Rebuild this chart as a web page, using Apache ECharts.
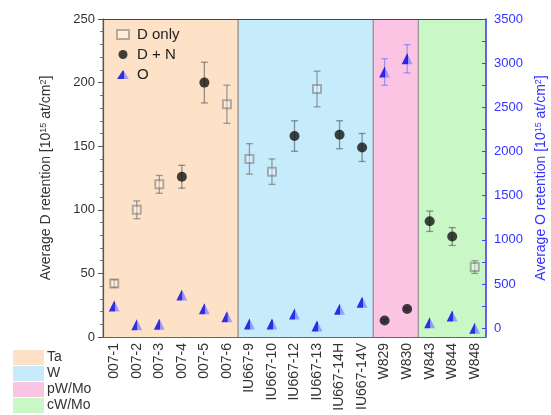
<!DOCTYPE html>
<html><head><meta charset="utf-8">
<script src="https://cdn.jsdelivr.net/npm/echarts@6/dist/echarts.min.js"></script>
<style>html,body{margin:0;padding:0;background:#fff}#c{width:551px;height:415px}</style>
</head><body><div id="c"></div>
<script>
const categories = ['007-1','007-2','007-3','007-4','007-5','007-6','IU667-9','IU667-10','IU667-12','IU667-13','IU667-14H','IU667-14V','W829','W830','W843','W844','W848'];
const dOnly    = [42, 100, 120, null, null, 183, 140, 130, null, 195, null, null, null, null, null, null, 55];
const dOnlyErr = [3, 7, 7, null, null, 15, 12, 10, null, 14, null, null, null, null, null, null, 5];
const dPlusN    = [null, null, null, 126, 200, null, null, null, 158, null, 159, 149, 13, 22, 91, 79, null];
const dPlusNErr = [null, null, null, 9, 16, null, null, null, 12, null, 11, 11, 1, 1, 8, 7, null];
const oVals = [250, 40, 45, 375, 220, 130, 47, 47, 160, 25, 213, 293, 2900, 3050, 62, 138, 0];
const oErr  = [0, 0, 0, 0, 0, 0, 0, 0, 0, 0, 0, 0, 150, 160, 0, 0, 0];
const bandNames  = ['Ta', 'W', 'pW/Mo', 'cW/Mo'];
const bandStarts = [0, 6, 12, 14];
const bandEnds   = [5, 11, 13, 16];
const bandColors = ['#fde2c8', '#c6ebfb', '#fcc4e3', '#c9f7c5'];
const leftTicks = [0, 50, 100, 150, 200, 250];
const rightTicks = [0, 500, 1000, 1500, 2000, 2500, 3000, 3500];
const rightMinorTicks = [0, 250, 500, 750, 1000, 1250, 1500, 1750, 2000, 2250, 2500, 2750, 3000, 3250, 3500];

const FONT = '"Liberation Sans", Arial, sans-serif';
const chart = echarts.init(document.getElementById('c'), null, {renderer: 'canvas'});

function bandSeries(i) {
  return {
    name: bandNames[i], type: 'custom', xAxisIndex: 0, yAxisIndex: 0, z: 0, silent: true,
    itemStyle: {color: bandColors[i]},
    data: [[bandStarts[i], bandEnds[i]]],
    renderItem: function (params, api) {
      const s = api.value(0), e = api.value(1);
      const w = api.size([1, 0])[0];
      const p0 = api.coord([s, 250]);
      const p1 = api.coord([e, 0]);
      const x0 = p0[0] - w / 2, x1 = p1[0] + w / 2;
      return {type: 'group', children: [
        {type: 'rect', shape: {x: x0, y: p0[1], width: x1 - x0, height: p1[1] - p0[1]}, style: {fill: bandColors[i]}},
        {type: 'line', shape: {x1: x0, y1: p0[1], x2: x0, y2: p1[1]}, style: {stroke: '#9a9a9a', lineWidth: 1.2}},
        {type: 'line', shape: {x1: x1, y1: p0[1], x2: x1, y2: p1[1]}, style: {stroke: '#9a9a9a', lineWidth: 1.2}}
      ]};
    }
  };
}

function errSeries(vals, errs, yIdx, color) {
  const data = [];
  vals.forEach((v, i) => { if (v !== null && errs[i]) data.push([i, v - errs[i], v + errs[i]]); });
  return {
    type: 'custom', xAxisIndex: 0, yAxisIndex: yIdx, z: 3, silent: true, data: data,
    renderItem: function (params, api) {
      const lo = api.coord([api.value(0), api.value(1)]);
      const hi = api.coord([api.value(0), api.value(2)]);
      const c = 3.5;
      const st = {stroke: color, lineWidth: 1.3};
      return {type: 'group', children: [
        {type: 'line', shape: {x1: lo[0], y1: lo[1], x2: hi[0], y2: hi[1]}, style: st},
        {type: 'line', shape: {x1: lo[0] - c, y1: lo[1], x2: lo[0] + c, y2: lo[1]}, style: st},
        {type: 'line', shape: {x1: hi[0] - c, y1: hi[1], x2: hi[0] + c, y2: hi[1]}, style: st}
      ]};
    }
  };
}

const triFill = new echarts.graphic.LinearGradient(0, 0, 1, 0, [
  {offset: 0, color: '#0000e6'}, {offset: 0.55, color: '#0000e6'}, {offset: 0.56, color: '#7d7dff'}, {offset: 1, color: '#9a9aff'}]);

const series = [0, 1, 2, 3].map(bandSeries).concat([
  errSeries(dOnly, dOnlyErr, 0, 'rgba(90,90,90,0.55)'),
  errSeries(dPlusN, dPlusNErr, 0, 'rgba(70,70,70,0.55)'),
  errSeries(oVals, oErr, 1, 'rgba(90,90,255,0.5)'),
  {name: 'D only', type: 'scatter', xAxisIndex: 0, yAxisIndex: 0, z: 5, symbol: 'rect', symbolSize: 8,
   itemStyle: {color: 'rgba(255,255,255,0.45)', borderColor: 'rgba(100,100,100,0.6)', borderWidth: 2},
   data: dOnly.map((v, i) => [i, v])},
  {name: 'D + N', type: 'scatter', xAxisIndex: 0, yAxisIndex: 0, z: 5, symbol: 'circle', symbolSize: 10,
   itemStyle: {color: '#141414'},
   data: dPlusN.map((v, i) => [i, v])},
  {name: 'O', type: 'scatter', xAxisIndex: 0, yAxisIndex: 1, z: 5, symbol: 'triangle', symbolSize: 11,
   itemStyle: {color: triFill},
   data: oVals.map((v, i) => [i, v])}
]);

const supRich = {sup: {fontSize: 9, verticalAlign: 'top', lineHeight: 10, padding: [0, 0, 6, 0]}};

chart.setOption({
  animation: false,
  textStyle: {fontFamily: FONT},
  grid: {left: 103, right: 65, top: 19, bottom: 78, containLabel: false, outerBoundsMode: 'none'},
  legend: [
    {orient: 'vertical', left: 116, top: 27, padding: 0, itemWidth: 12, itemHeight: 9, itemGap: 5,
     textStyle: {fontSize: 15, color: '#222', fontFamily: FONT, padding: [0, 0, 0, 3]},
     data: ['D only', 'D + N', 'O']},
    {orient: 'vertical', left: 13, top: 350, padding: 0, height: 70, itemWidth: 31, itemHeight: 15, itemGap: 1,
     textStyle: {fontSize: 14, color: '#333', fontFamily: FONT, lineHeight: 15, padding: [0, 0, 0, -2]},
     data: bandNames.map(n => ({name: n, icon: 'rect'}))}
  ],
  xAxis: [
    {type: 'category', data: categories, position: 'bottom',
     axisLine: {onZero: false, lineStyle: {color: '#666', width: 1.2}},
     axisTick: {alignWithLabel: true, length: 5, lineStyle: {color: '#444'}},
     axisLabel: {rotate: 90, interval: 0, fontSize: 14, color: '#333', margin: 6, fontFamily: FONT},
     splitLine: {show: false}},
    {type: 'category', data: categories, position: 'top',
     axisLine: {onZero: false, lineStyle: {color: '#444', width: 1.2}},
     axisTick: {alignWithLabel: true, inside: true, length: 5, lineStyle: {color: '#444'}},
     axisLabel: {show: false}, splitLine: {show: false}}
  ],
  yAxis: [
    {type: 'value', min: 0, max: 250, interval: 50, position: 'left',
     name: 'Average D retention [10{sup|15} at/cm{sup|2}]', nameLocation: 'middle', nameGap: 50,
     nameTextStyle: {fontSize: 14, color: '#333', fontFamily: FONT, rich: supRich},
     axisLine: {show: true, lineStyle: {color: '#555', width: 1.2}},
     axisTick: {show: true, length: 5, lineStyle: {color: '#555'}},
     minorTick: {show: true, splitNumber: 5, length: 3, lineStyle: {color: '#777'}},
     axisLabel: {fontSize: 13, color: '#333', margin: 8, fontFamily: FONT, customValues: leftTicks},
     splitLine: {show: false}},
    {type: 'value', min: -100, max: 3500, position: 'right',
     name: 'Average O retention [10{sup|15} at/cm{sup|2}]', nameLocation: 'middle', nameGap: 47,
     nameTextStyle: {fontSize: 14, color: '#3333ff', fontFamily: FONT, rich: supRich},
     axisLine: {show: true, lineStyle: {color: '#4444ff', width: 1.5}},
     axisTick: {show: true, inside: true, length: 4, customValues: rightMinorTicks, lineStyle: {color: '#4444ff'}},
     axisLabel: {fontSize: 13, color: '#3333ff', margin: 8, fontFamily: FONT, customValues: rightTicks,
                 formatter: v => String(v)},
     splitLine: {show: false}}
  ],
  series: series
});
</script></body></html>
